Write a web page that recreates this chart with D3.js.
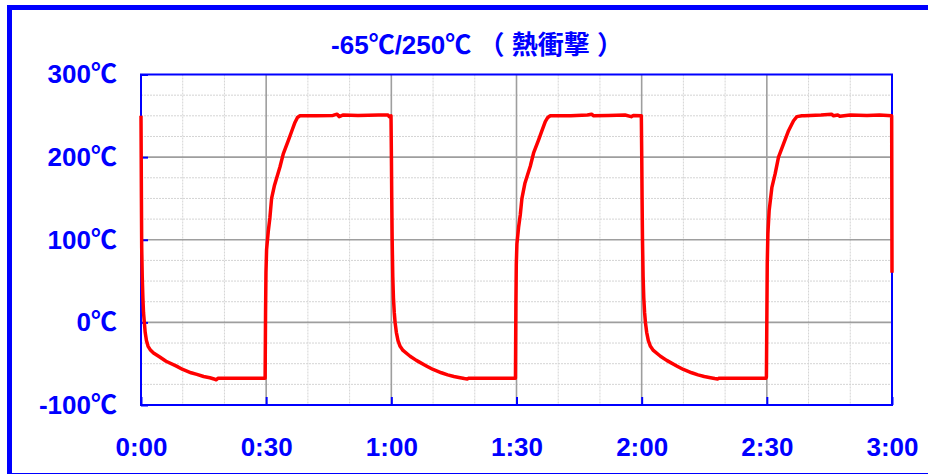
<!DOCTYPE html>
<html>
<head>
<meta charset="utf-8">
<script src="https://cdn.jsdelivr.net/npm/d3@7"></script>
<style>
  html, body { margin: 0; padding: 0; background: #fff; }
  svg { display: block; }
  text { font-family: "Liberation Sans", Arial, "Noto Sans CJK JP", sans-serif; }
</style>
</head>
<body>
<svg id="chart" width="928" height="474"></svg>
<script>
// ---- data (minutes, °C) ----
const title = "-65℃/250℃ （ 熱衝撃 ）";
const xTickValues = [0, 30, 60, 90, 120, 150, 180];
const xTickLabels = ["0:00", "0:30", "1:00", "1:30", "2:00", "2:30", "3:00"];
const yTickValues = [-100, 0, 100, 200, 300];
const yTickLabels = ["-100℃", "0℃", "100℃", "200℃", "300℃"];

const timeMin = [
  0, 0.05, 0.1, 0.17, 0.3, 0.45, 0.6, 0.8, 1.0, 1.3, 1.7, 2.2, 3, 4.5, 6, 8.5, 10, 12, 13.4, 15, 16.5, 17.5, 18, 18.5, 22, 26, 29.75,
  29.85, 29.95, 30.1, 30.5, 30.9, 31.3, 32, 33.3, 34.1, 35.3, 36.1, 36.9, 37.5, 38.1, 42, 46, 47, 47.5, 48.5, 52, 57, 59.2, 59.5, 59.92,
  60.02, 60.1, 60.2, 60.35, 60.5, 60.7, 60.9, 61.2, 61.6, 62.1, 62.8, 64.5, 66, 68.5, 70, 72, 73.5, 75, 76.5, 77.5, 78.2, 78.6, 84, 89.75,
  89.85, 89.95, 90.1, 90.5, 90.9, 91.3, 92, 93.3, 94.1, 95.3, 96.1, 96.9, 97.5, 98.1, 103, 107, 108, 108.5, 112, 116, 117.5, 118, 119.92,
  120.02, 120.1, 120.2, 120.35, 120.5, 120.7, 120.9, 121.2, 121.6, 122.1, 122.8, 124.5, 126, 128.5, 130, 132, 133.5, 135, 136.5, 137.5, 138.2, 138.6, 144, 149.8,
  149.9, 150.1, 150.25, 150.55, 151.2, 152, 152.8, 154, 155.2, 156.4, 157.2, 158.4, 159, 163, 165.5, 166, 167, 167.5, 170, 174, 177, 179.92, 180
];
const tempC = [
  250, 200, 150, 90, 55, 30, 12, 0, -12, -22, -29, -33, -37, -42, -47, -53, -57, -61, -63, -65.5, -67, -68.5, -69.5, -67.5, -67.5, -67.5, -67.5,
  10, 60, 88, 110, 127, 150, 166, 188, 204, 220, 231, 242, 248, 250, 250, 250.5, 252, 249, 251, 250.5, 251, 251, 249, 250,
  200, 150, 100, 55, 30, 12, 0, -12, -22, -29, -34, -41, -46, -53, -57, -61, -63.5, -65.5, -67, -68, -68.5, -67.5, -67.5, -67.5,
  20, 70, 95, 115, 130, 150, 168, 189, 205, 221, 232, 243, 248, 250, 250, 251, 252, 250, 250.5, 251, 249, 250.5, 250,
  200, 150, 100, 55, 30, 12, 0, -12, -22, -29, -34, -41, -46, -53, -57, -61, -63.5, -65.5, -67, -68, -68.5, -67.5, -67.5, -67.5,
  -66, 71, 107, 135, 163, 180, 200, 216, 232, 244, 249, 250, 250, 251, 252, 250, 251, 249.5, 251, 250.5, 251, 250, 60
];

// ---- chart ----
const svg = d3.select("#chart");
const plot = { left: 141, right: 892, top: 74.5, bottom: 405 };
const blue = "#0000ff";

const x = d3.scaleLinear().domain([0, 180]).range([plot.left, plot.right]);
const y = d3.scaleLinear().domain([-100, 300]).range([plot.bottom, plot.top]);

// outer frame (only top/left visible, thin bottom edge)
svg.append("rect")
  .attr("x", 9.5).attr("y", 7.5).attr("width", 1000).attr("height", 468)
  .attr("fill", "none").attr("stroke", blue).attr("stroke-width", 5);

// title
svg.append("text")
  .attr("x", 477).attr("y", 54)
  .attr("text-anchor", "middle")
  .attr("fill", blue)
  .attr("font-size", 26).attr("font-weight", "bold")
  .text(title);

// grid
const g = svg.append("g");
const minorX = d3.range(0, 181, 10).filter(v => v % 30 !== 0);
const minorY = d3.range(-100, 301, 25).filter(v => v % 100 !== 0);
g.selectAll("line.mx").data(minorX).join("line")
  .attr("x1", d => x(d)).attr("x2", d => x(d))
  .attr("y1", plot.top).attr("y2", plot.bottom)
  .attr("stroke", "#d4d4d4").attr("stroke-width", 1).attr("stroke-dasharray", "2,1");
g.selectAll("line.my").data(minorY).join("line")
  .attr("x1", plot.left).attr("x2", plot.right)
  .attr("y1", d => y(d)).attr("y2", d => y(d))
  .attr("stroke", "#d4d4d4").attr("stroke-width", 1).attr("stroke-dasharray", "2,1");
const majorX = xTickValues.filter(v => v > 0 && v < 180);
const majorY = yTickValues.filter(v => v > -100 && v < 300);
g.selectAll("line.Mx").data(majorX).join("line")
  .attr("x1", d => x(d)).attr("x2", d => x(d))
  .attr("y1", plot.top).attr("y2", plot.bottom)
  .attr("stroke", "#9e9e9e").attr("stroke-width", 1.6);
g.selectAll("line.My").data(majorY).join("line")
  .attr("x1", plot.left).attr("x2", plot.right)
  .attr("y1", d => y(d)).attr("y2", d => y(d))
  .attr("stroke", "#9e9e9e").attr("stroke-width", 1.6);

// plot border
svg.append("rect")
  .attr("x", plot.left).attr("y", plot.top)
  .attr("width", plot.right - plot.left).attr("height", plot.bottom - plot.top)
  .attr("fill", "none").attr("stroke", blue).attr("stroke-width", 2);

// axes
const yAxis = d3.axisLeft(y).tickValues(yTickValues)
  .tickFormat((d, i) => yTickLabels[i]).tickSize(-7).tickPadding(24);
const xAxis = d3.axisBottom(x).tickValues(xTickValues)
  .tickFormat((d, i) => xTickLabels[i]).tickSize(-8).tickPadding(33);

const ya = svg.append("g").attr("transform", `translate(${plot.left},0)`).call(yAxis);
const xa = svg.append("g").attr("transform", `translate(0,${plot.bottom})`).call(xAxis);
[ya, xa].forEach(a => {
  a.select(".domain").remove();
  a.selectAll(".tick line").attr("stroke", blue).attr("stroke-width", 2);
  a.selectAll(".tick text")
    .attr("fill", blue)
    .attr("font-size", 26).attr("font-weight", "bold")
    .attr("font-family", "'Liberation Sans', Arial, 'Noto Sans CJK JP', sans-serif");
});

// data line
const data = timeMin.map((t, i) => ({ t, v: tempC[i] }));
svg.append("path")
  .datum(data)
  .attr("fill", "none")
  .attr("stroke", "#ff0000")
  .attr("stroke-width", 3.5)
  .attr("stroke-linejoin", "round")
  .attr("d", d3.line().x(d => x(d.t)).y(d => y(d.v)));
</script>
</body>
</html>
